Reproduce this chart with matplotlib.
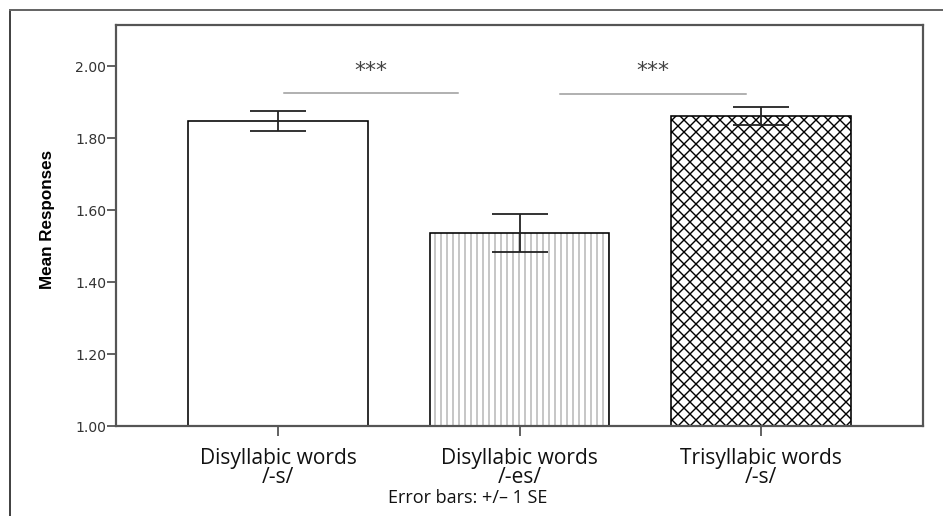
import matplotlib
matplotlib.use("Agg")
import matplotlib.pyplot as plt
from matplotlib.lines import Line2D

# data
groups = ["Disyllabic words\n/-s/", "Disyllabic words\n/-es/", "Trisyllabic words\n/-s/"]
means = [1.847, 1.537, 1.861]
se = [0.028, 0.053, 0.025]
hatches = ["", "||", "xx"]
hatch_colors = ["black", "#b0b0b0", "black"]
sig_pairs = [(0.025, 0.745), (1.168, 1.938)]
sig_y = [1.926, 1.924]
sig_text = ["***", "***"]

DPI = 72
fig = plt.figure(figsize=(943 / DPI, 516 / DPI), dpi=DPI)
ax = fig.add_axes([116 / 943, 1 - 426 / 516, (923 - 116) / 943, (426 - 25) / 516])

plt.rcParams['hatch.linewidth'] = 1.4
x = list(range(len(groups)))
for i in x:
    # hatch drawn with its own colour, outline drawn on top in black
    ax.bar(i, means[i] - 1.0, bottom=1.0, width=0.745, color="white",
           edgecolor=hatch_colors[i], linewidth=0, hatch=hatches[i], zorder=2)
    ax.bar(i, means[i] - 1.0, bottom=1.0, width=0.745, fill=False,
           edgecolor="black", linewidth=1.6, zorder=2.5)
ax.errorbar(x, means, yerr=se, fmt="none", ecolor="#222222",
            elinewidth=1.8, capsize=28, capthick=1.8, zorder=3)

for (x0, x1), yy, t in zip(sig_pairs, sig_y, sig_text):
    ax.plot([x0, x1], [yy, yy], color="#999999", linewidth=1.5, zorder=1)
    ax.text((x0 + x1) / 2, yy + 0.062, t, ha="center", va="center",
            fontsize=22, color="#444444", family="DejaVu Sans")

ax.set_xlim(-0.671, 2.671)
ax.set_ylim(1.0, 2.115)
yt = [1.0, 1.2, 1.4, 1.6, 1.8, 2.0]
ax.set_yticks(yt)
ax.set_yticklabels(["%.2f" % v for v in yt], family="DejaVu Sans", fontsize=14,
                   color="#333333")
ax.set_xticks(x)
ax.set_xticklabels(groups, family="Open Sans", fontsize=21, linespacing=0.9,
                   color="#111111")
ax.tick_params(axis="y", direction="out", length=9, width=1.5, color="#333333", pad=1)
ax.tick_params(axis="x", direction="out", length=10, width=1.5, color="#333333", pad=12)
for s in ax.spines.values():
    s.set_color("#555555")
    s.set_linewidth(2.2)

ax.set_ylabel("Mean Responses", family="Liberation Sans", fontweight="bold",
              fontsize=17)
ax.yaxis.set_label_coords(-0.076, 0.514)

fig.text(0.496, 0.034, "Error bars: +/\u2013 1 SE", ha="center", va="center",
         fontsize=18, family="Open Sans", color="#111111")

# outer frame (left and top only)
fig.add_artist(Line2D([10 / 943, 10 / 943], [0, 1 - 10 / 516], color="#444444",
                      linewidth=2, transform=fig.transFigure))
fig.add_artist(Line2D([10 / 943, 1], [1 - 10 / 516, 1 - 10 / 516], color="#666666",
                      linewidth=2, transform=fig.transFigure))

plt.savefig("out.png", dpi=DPI)
